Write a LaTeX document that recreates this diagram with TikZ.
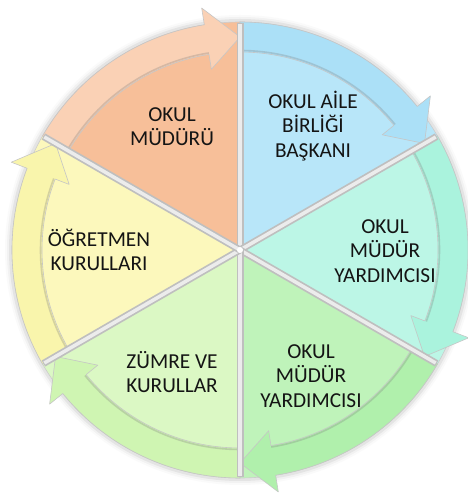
\documentclass[tikz,border=0pt]{standalone}
\usepackage{fontspec}
\setmainfont{Carlito}
\definecolor{orangeS}{HTML}{F7BF99}
\definecolor{orangeA}{HTML}{FAD1B5}
\definecolor{blueS}{HTML}{B8E6F9}
\definecolor{blueA}{HTML}{ABE0F7}
\definecolor{mintS}{HTML}{BCF6E6}
\definecolor{mintA}{HTML}{AAF3DD}
\definecolor{greenS}{HTML}{BFF3BA}
\definecolor{greenA}{HTML}{B0F0AC}
\definecolor{zumS}{HTML}{DBF8C4}
\definecolor{zumA}{HTML}{CFF5B2}
\definecolor{yelS}{HTML}{FCF8BC}
\definecolor{yelA}{HTML}{F9F5AC}
\newcommand\piewedge[3]{%
  \filldraw[wedgebox, fill=#3] (0,0) -- (#1:228pt) arc[start angle=#1, end angle=#2, radius=228pt] -- cycle;}
\newcommand\cyclearrow[3]{%
  \pgfmathsetmacro\hb{#2+9}%
  \filldraw[arrowband, fill=#3] (#1:228pt) arc[start angle=#1, end angle=\hb, radius=228pt]
    -- (\hb:245pt) -- (#2:213pt) -- (\hb:183pt) -- (\hb:198pt)
    arc[start angle=\hb, end angle=#1, radius=198pt] -- cycle;
  \draw[innershade] (#1:199.5pt) arc[start angle=#1, end angle=\hb, radius=199.5pt];}
\begin{document}
\begin{tikzpicture}[x=1pt,y=1pt,
  lbl/.style={font=\fontsize{21.3}{24.3}\selectfont, align=center, text=black!92, inner sep=0pt},
  wedgebox/.style={draw=gray!40, line width=0.6pt},
  arrowband/.style={draw=gray!45, line width=0.6pt, line join=round},
  innershade/.style={draw=gray, line width=1.6pt, opacity=0.3},
  spokeout/.style={draw=gray!50, line width=7pt},
  spokein/.style={draw=gray!15, line width=3.5pt}]
\useasboundingbox (0,0) rectangle (467,502);
\begin{scope}[shift={(240,252)}]
  \foreach \w/\o in {12/0.04, 8/0.07, 4/0.12} {
    \draw[gray, line width=\w pt, opacity=\o] (0,0) circle[radius=229pt];}
  \piewedge{90}{150}{orangeS}
  \piewedge{30}{90}{blueS}
  \piewedge{-30}{30}{mintS}
  \piewedge{-90}{-30}{greenS}
  \piewedge{-150}{-90}{zumS}
  \piewedge{150}{210}{yelS}
  \cyclearrow{150}{90}{orangeA}
  \cyclearrow{90}{30}{blueA}
  \cyclearrow{30}{-30}{mintA}
  \cyclearrow{-30}{-90}{greenA}
  \cyclearrow{-90}{-150}{zumA}
  \cyclearrow{210}{150}{yelA}
  \foreach \a in {90,30,-30,-90,-150,150} {
    \draw[spokeout] (0,0) -- (\a:227pt);
    \draw[spokein] (0,0) -- (\a:226pt);}
  \fill[white] (0,0) circle[radius=3pt];
\end{scope}
\node[lbl] (om) at (172,375) {OKUL\\MÜDÜRÜ};
\node[lbl] (oab) at (313,376) {OKUL AİLE\\BİRLİĞİ\\BAŞKANI};
\node[lbl] (omy1) at (385,251) {OKUL\\MÜDÜR\\YARDIMCISI};
\node[lbl] (omy2) at (311,126) {OKUL\\MÜDÜR\\YARDIMCISI};
\node[lbl] (zk) at (172,130) {ZÜMRE VE\\KURULLAR};
\node[lbl] (ok) at (99,252) {ÖĞRETMEN\\KURULLARI};
\end{tikzpicture}
\end{document}
